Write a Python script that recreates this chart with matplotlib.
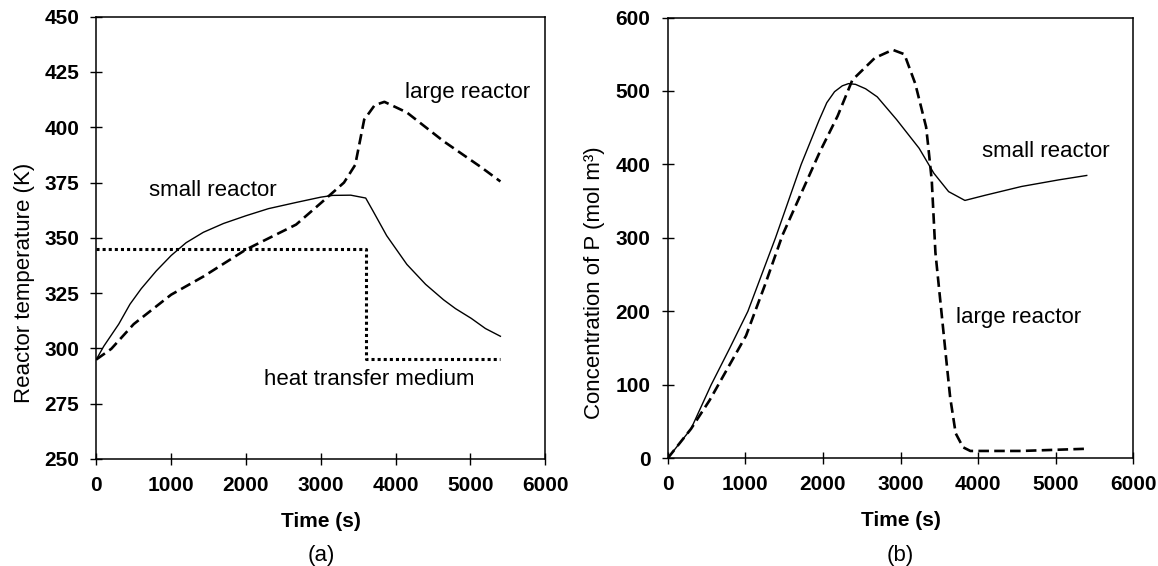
import matplotlib
matplotlib.use("Agg")
import matplotlib.pyplot as plt

plt.rcParams['font.family'] = ['Liberation Sans', 'DejaVu Sans']

# ---- (a) reactor temperature ----
t_small_T = [0, 100, 200, 300, 450, 600, 700, 800, 1000, 1200, 1430, 1700, 2000, 2300,
             2670, 3000, 3160, 3400, 3600, 3700, 3880, 4150, 4400, 4640, 4800, 5010, 5200, 5400]
T_small = [295, 301, 306, 311, 320, 327, 331, 335, 342, 347.8, 352.5, 356.5, 360, 363.2,
           366, 368.4, 369.2, 369.3, 368, 362, 351, 338, 329, 322, 318, 313.6, 309, 305.5]

t_large_T = [0, 200, 500, 1000, 1430, 2000, 2670, 3010, 3310, 3460, 3580, 3650, 3720, 3850,
             4150, 4640, 5140, 5400]
T_large = [295, 299.8, 311, 324.3, 332.5, 344.7, 356, 366, 375, 383, 403.5, 406.7, 410, 411.5,
           406.7, 393.7, 382, 375.5]

t_medium = [0, 3600, 3600, 5400]
T_medium = [345, 345, 295, 295]

# ---- (b) concentration of P ----
t_small_C = [0, 300, 560, 800, 1033, 1389, 1720, 1950, 2050, 2150, 2250, 2330, 2420, 2550,
             2700, 2950, 3240, 3430, 3620, 3830, 4090, 4560, 5040, 5400]
C_small = [0, 40, 100, 150, 200, 300, 400, 460, 484, 499, 507, 510, 509, 503,
           492, 461, 422, 388, 363, 351, 358, 370, 379, 385]

t_large_C = [0, 300, 540, 1010, 1250, 1480, 1960, 2190, 2380, 2670, 2900, 3050, 3190, 3330,
             3355, 3403, 3450, 3545, 3592, 3640, 3711, 3806, 3900, 4000, 4560, 5400]
C_large = [0, 40, 79, 167, 235, 304, 417, 466, 515, 545, 556, 550, 510, 451,
           427, 378, 280, 181, 132, 83, 34, 15, 10, 10, 10, 13]

x_ticks = [0, 1000, 2000, 3000, 4000, 5000, 6000]
T_ticks = [250, 275, 300, 325, 350, 375, 400, 425, 450]
C_ticks = [0, 100, 200, 300, 400, 500, 600]

W, H = 1158, 566
fig = plt.figure(figsize=(W / 100, H / 100), dpi=100)

def px_axes(x0, x1, y0, y1):
    return fig.add_axes([x0 / W, 1 - y1 / H, (x1 - x0) / W, (y1 - y0) / H])

ax1 = px_axes(96.3, 545.3, 16.7, 459)
ax2 = px_axes(667.7, 1133.3, 17.5, 458.3)

thin = dict(color='black', lw=1.0)
dashed = dict(color='black', lw=1.9, dashes=(4, 2), dash_capstyle='butt')
dotted = dict(color='black', lw=2.2, dashes=(1, 1), dash_capstyle='butt')

ax1.plot(t_small_T, T_small, **thin)
ax1.plot(t_large_T, T_large, **dashed)
ax1.plot(t_medium, T_medium, **dotted)
ax1.set_ylim(250, 450)
ax1.set_yticks(T_ticks)
ax1.set_ylabel('Reactor temperature (K)', fontsize=16)

ax2.plot(t_small_C, C_small, **thin)
ax2.plot(t_large_C, C_large, **dashed)
ax2.set_ylim(0, 600)
ax2.set_yticks(C_ticks)
ax2.set_ylabel('Concentration of P (mol m³)', fontsize=16)

label_kw = dict(fontsize=16, ha='center', va='center')
ax1.text(4963, 415.7, 'large reactor', **label_kw)
ax1.text(1556, 371.6, 'small reactor', **label_kw)
ax1.text(3654, 286, 'heat transfer medium', **label_kw)
ax2.text(4872, 417, 'small reactor', **label_kw)
ax2.text(4516, 191, 'large reactor', **label_kw)

for ax in (ax1, ax2):
    ax.set_xlim(0, 6000)
    ax.set_xticks(x_ticks)
    ax.set_xlabel('Time (s)', fontsize=15, fontweight='bold', labelpad=12)
    for s in ax.spines.values():
        s.set_linewidth(1.1)
    ax.tick_params(direction='inout', length=8.6, width=1.0, pad=8,
                   labelsize=15, top=False, right=False)
    for lab in ax.get_xticklabels() + ax.get_yticklabels():
        lab.set_fontweight('bold')

ax1.yaxis.set_label_coords(35 / W, 0.5, transform=fig.transFigure)
ax2.yaxis.set_label_coords(605 / W, 0.5, transform=fig.transFigure)

fig.text(321 / W, 1 - 555 / H, '(a)', fontsize=16, ha='center', va='center')
fig.text(900 / W, 1 - 555 / H, '(b)', fontsize=16, ha='center', va='center')

fig.savefig('out.png', dpi=100)
